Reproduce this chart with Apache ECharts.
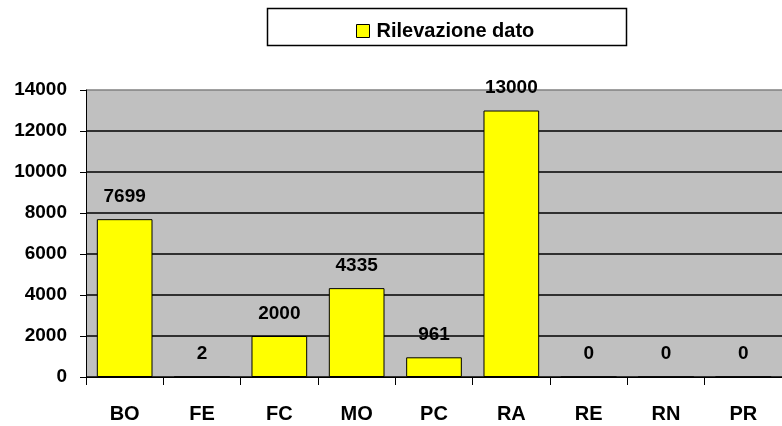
<!DOCTYPE html>
<html>
<head>
<meta charset="utf-8">
<script src="https://cdn.jsdelivr.net/npm/echarts@6/dist/echarts.min.js"></script>
<style>
  html, body { margin: 0; padding: 0; background: #fff; }
  #chart { width: 782px; height: 426px; }
</style>
</head>
<body>
<div id="chart"></div>
<script>
// dati
var categories = ['BO', 'FE', 'FC', 'MO', 'PC', 'RA', 'RE', 'RN', 'PR'];
var valori = [7699, 2, 2000, 4335, 961, 13000, 0, 0, 0];
var yTicks = [0, 2000, 4000, 6000, 8000, 10000, 12000, 14000];

var font = 'Liberation Sans, Arial, sans-serif';

var myChart = echarts.init(document.getElementById('chart'));

// colore delle griglie: l'ultima (bordo superiore) grigia
var gridColors = yTicks.map(function (v, i) {
    return i === yTicks.length - 1 ? '#808080' : '#000';
});

var option = {
    animation: false,
    backgroundColor: '#fff',
    textStyle: { fontFamily: font },
    graphic: [
        {
            type: 'rect',
            shape: { x: 267.5, y: 8.5, width: 359, height: 37 },
            style: { fill: '#fff', stroke: '#000', lineWidth: 1.5 },
            z: 0
        }
    ],
    legend: {
        data: ['Rilevazione dato'],
        left: 351,
        top: 16,
        padding: 5,
        icon: 'rect',
        itemWidth: 13,
        itemHeight: 13,
        itemStyle: { borderColor: '#000', borderWidth: 1 },
        textStyle: { fontFamily: font, fontWeight: 'bold', fontSize: 20, color: '#000', padding: [0, 0, 0, 2] },
        z: 5
    },
    grid: {
        left: 86,
        top: 90,
        right: -6,
        bottom: 49,
        show: true,
        backgroundColor: '#c0c0c0',
        borderWidth: 0
    },
    xAxis: {
        type: 'category',
        data: categories,
        boundaryGap: true,
        axisLine: { lineStyle: { color: '#000', width: 1 } },
        axisTick: { show: true, length: 8, inside: false, lineStyle: { color: '#000' } },
        axisLabel: { color: '#000', fontWeight: 'bold', fontSize: 20, margin: 27, fontFamily: font }
    },
    yAxis: {
        type: 'value',
        min: 0,
        max: 14000,
        interval: 2000,
        axisLine: { show: true, lineStyle: { color: '#000', width: 1 } },
        axisTick: { show: true, length: 6, lineStyle: { color: '#000' } },
        axisLabel: {
            color: '#000', fontWeight: 'bold', fontSize: 19, margin: 19, fontFamily: font,
            formatter: function (v) { return String(v); }
        },
        splitLine: { show: true, lineStyle: { color: gridColors, width: 1.5 } }
    },
    series: [
        {
            name: 'Rilevazione dato',
            type: 'bar',
            data: valori,
            barCategoryGap: '28%',
            itemStyle: { color: '#ffff00', borderColor: '#000', borderWidth: 1 },
            label: {
                show: true,
                position: 'top',
                distance: 13,
                color: '#000',
                fontWeight: 'bold',
                fontSize: 19,
                fontFamily: font
            }
        }
    ]
};

myChart.setOption(option);
</script>
</body>
</html>
